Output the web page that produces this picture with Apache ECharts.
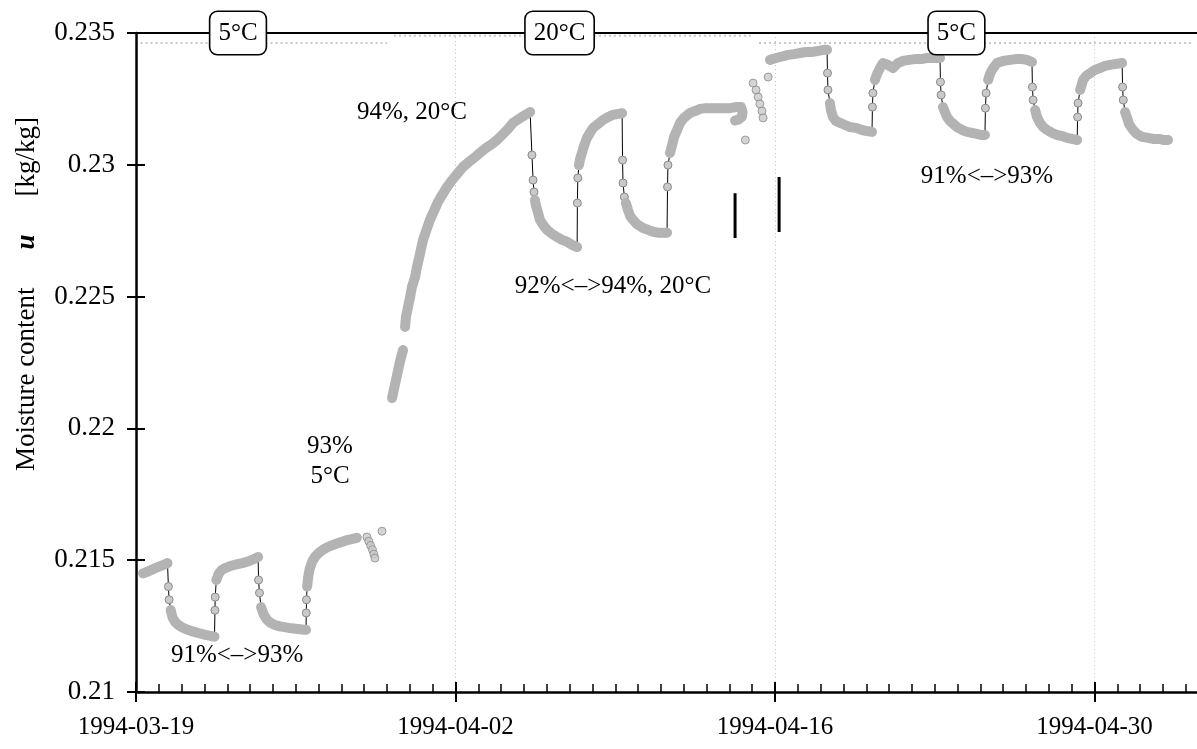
<!DOCTYPE html>
<html>
<head>
<meta charset="utf-8">
<script src="https://cdn.jsdelivr.net/npm/echarts@6/dist/echarts.min.js"></script>
<style>
html,body{margin:0;padding:0;background:#fff;}
#chart{width:1197px;height:749px;}
</style>
</head>
<body>
<div id="chart"></div>
<script>
// x = days since 1994-03-19 00:00, y = moisture content u [kg/kg]
const START_UTC = Date.UTC(1994, 2, 19);

// 5 °C, 91% <-> 93%
const seg1 = [[0.31,0.21450],[0.45,0.21455],[0.6,0.21460],[0.75,0.21466],[0.9,0.21472],[1.05,0.21477],[1.2,0.21482],[1.38,0.21489]];
const drop1 = [[1.42,0.21400],[1.45,0.21350]];
const seg2 = [[1.52,0.21311],[1.6,0.21283],[1.72,0.21265],[1.86,0.21254],[2.0,0.21246],[2.2,0.21238],[2.4,0.21232],[2.6,0.21227],[2.8,0.21222],[3.0,0.21218],[3.2,0.21214],[3.44,0.21210]];
const rise1 = [[3.46,0.21310],[3.47,0.21360]];
const seg3 = [[3.52,0.21425],[3.62,0.21448],[3.75,0.21462],[3.9,0.21470],[4.1,0.21477],[4.3,0.21482],[4.5,0.21486],[4.7,0.21490],[4.9,0.21495],[5.1,0.21502],[5.35,0.21512]];
const drop2 = [[5.37,0.21425],[5.41,0.21376]];
const seg4 = [[5.48,0.21322],[5.6,0.21293],[5.75,0.21273],[5.9,0.21262],[6.1,0.21254],[6.3,0.21249],[6.5,0.21246],[6.7,0.21243],[6.9,0.21241],[7.1,0.21239],[7.3,0.21237],[7.45,0.21236]];
const rise2 = [[7.46,0.21300],[7.47,0.21350]];
const seg5 = [[7.5,0.21400],[7.55,0.21440],[7.62,0.21470],[7.72,0.21495],[7.85,0.21513],[8.0,0.21527],[8.2,0.21540],[8.4,0.21550],[8.6,0.21557],[8.8,0.21563],[9.0,0.21569],[9.2,0.21575],[9.45,0.21580],[9.68,0.21585]];
// 93%, 5 °C scattered readings
const scatter1 = [[10.12,0.21588],[10.2,0.21572],[10.28,0.21556],[10.36,0.21540],[10.42,0.21523],[10.47,0.21508],[10.78,0.21610]];
// 94%, 20 °C
const seg6a = [[11.22,0.22115],[11.27,0.22135],[11.32,0.22155],[11.37,0.22175],[11.42,0.22195],[11.47,0.22215],[11.52,0.22235],[11.57,0.22255],[11.63,0.22275],[11.70,0.22297]];
const seg6b = [[11.79,0.22385],[11.83,0.22423],[11.92,0.22461],[12.01,0.22498],[12.09,0.22536],[12.23,0.22574],[12.31,0.22612],[12.40,0.22646],[12.49,0.22681],[12.58,0.22715],[12.71,0.22749],[12.88,0.22791],[13.06,0.22825],[13.23,0.22859],[13.41,0.22885],[13.63,0.22916],[13.85,0.22942],[14.07,0.22965],[14.33,0.22992],[14.59,0.23011],[14.81,0.23026],[15.07,0.23045],[15.34,0.23064],[15.60,0.23079],[15.82,0.23094],[16.04,0.23113],[16.30,0.23136],[16.52,0.23159],[16.78,0.23174],[17.05,0.23189],[17.27,0.23200]];
// 92% <-> 94%, 20 °C
const drop3 = [[17.35,0.23037],[17.40,0.22942],[17.44,0.22897]];
const seg7 = [[17.48,0.22866],[17.53,0.22844],[17.62,0.22817],[17.70,0.22791],[17.84,0.22772],[18.01,0.22753],[18.23,0.22738],[18.45,0.22726],[18.67,0.22715],[18.89,0.22708],[19.11,0.22696],[19.33,0.22688]];
const rise3 = [[19.34,0.22855],[19.36,0.22950]];
const seg8 = [[19.41,0.22999],[19.46,0.23022],[19.54,0.23045],[19.63,0.23071],[19.76,0.23102],[19.89,0.23121],[20.03,0.23140],[20.25,0.23155],[20.46,0.23170],[20.68,0.23181],[20.90,0.23189],[21.12,0.23193],[21.30,0.23196]];
const drop4 = [[21.32,0.23018],[21.34,0.22931],[21.40,0.22878]];
const seg9 = [[21.47,0.22855],[21.56,0.22828],[21.65,0.22806],[21.78,0.22791],[21.95,0.22775],[22.22,0.22760],[22.44,0.22753],[22.66,0.22746],[22.92,0.22742],[23.14,0.22742],[23.27,0.22742]];
const rise4 = [[23.29,0.22916],[23.31,0.22999]];
const seg10 = [[23.40,0.23045],[23.49,0.23075],[23.58,0.23106],[23.71,0.23132],[23.84,0.23159],[24.01,0.23178],[24.28,0.23197],[24.50,0.23204],[24.72,0.23212],[24.98,0.23215],[25.24,0.23215],[25.50,0.23215],[25.77,0.23215],[26.03,0.23215],[26.29,0.23219],[26.51,0.23219],[26.58,0.23200],[26.55,0.23182],[26.40,0.23172],[26.25,0.23168]];
const scatter2 = [[26.70,0.23094],[27.04,0.23310],[27.17,0.23284],[27.26,0.23257],[27.34,0.23231],[27.43,0.23204],[27.48,0.23178],[27.70,0.23333]];
// 5 °C, 91% <-> 93%
const seg11 = [[27.78,0.23398],[28.05,0.23405],[28.31,0.23411],[28.57,0.23417],[28.83,0.23420],[29.10,0.23424],[29.36,0.23428],[29.62,0.23428],[29.89,0.23432],[30.15,0.23436],[30.28,0.23436]];
const drop5 = [[30.30,0.23348],[30.32,0.23284]];
const seg12 = [[30.41,0.23234],[30.45,0.23208],[30.54,0.23181],[30.67,0.23166],[30.85,0.23159],[31.07,0.23151],[31.29,0.23143],[31.55,0.23140],[31.81,0.23132],[32.03,0.23128],[32.25,0.23125]];
const rise5 = [[32.27,0.23219],[32.29,0.23272]];
const seg13 = [[32.38,0.23322],[32.47,0.23344],[32.60,0.23367],[32.73,0.23386],[32.95,0.23379],[33.17,0.23367],[33.39,0.23386],[33.61,0.23394],[33.87,0.23398],[34.14,0.23401],[34.40,0.23401],[34.66,0.23405],[34.93,0.23405],[35.23,0.23405]];
const drop6 = [[35.25,0.23314],[35.28,0.23265]];
const seg14 = [[35.36,0.23219],[35.45,0.23200],[35.54,0.23181],[35.67,0.23166],[35.76,0.23159],[35.98,0.23143],[36.20,0.23132],[36.42,0.23125],[36.63,0.23121],[36.85,0.23117],[37.03,0.23113],[37.20,0.23113]];
const rise6 = [[37.22,0.23215],[37.25,0.23272]];
const seg15 = [[37.34,0.23322],[37.42,0.23344],[37.51,0.23360],[37.73,0.23386],[37.99,0.23394],[38.30,0.23398],[38.56,0.23401],[38.83,0.23401],[39.04,0.23398],[39.26,0.23390]];
const drop7 = [[39.28,0.23295],[39.31,0.23246]];
const seg16 = [[39.40,0.23208],[39.48,0.23181],[39.61,0.23159],[39.75,0.23143],[39.92,0.23132],[40.14,0.23121],[40.36,0.23113],[40.58,0.23109],[40.80,0.23102],[41.02,0.23098],[41.24,0.23094]];
const rise7 = [[41.26,0.23181],[41.28,0.23234]];
const seg17 = [[41.37,0.23284],[41.45,0.23307],[41.50,0.23322],[41.63,0.23337],[41.81,0.23348],[42.02,0.23360],[42.24,0.23367],[42.46,0.23375],[42.68,0.23379],[42.95,0.23383],[43.21,0.23386]];
const drop8 = [[43.23,0.23295],[43.26,0.23246]];
const seg18 = [[43.34,0.23200],[43.43,0.23178],[43.51,0.23155],[43.69,0.23132],[43.86,0.23117],[44.08,0.23106],[44.35,0.23102],[44.57,0.23098],[44.83,0.23098],[45.05,0.23094],[45.22,0.23094]];

// faint upper trace (temperature record)
const tempTrace = [[0.2,0.23462],[11.0,0.23462],['-','-'],[11.3,0.23490],[27.0,0.23490],['-','-'],[27.3,0.23462],[46.3,0.23462]];
// two vertical marker bars
const bar1 = [[26.25,0.22892],[26.25,0.22722]];
const bar2 = [[28.18,0.22954],[28.18,0.22745]];

// boxed temperature labels on the top line
const boxTexts = ['5°C', '20°C', '5°C'];
const boxDays = [4.47, 18.56, 35.95];
// free annotations
const noteTexts = ['91%<–>93%', '93%\n5°C', '94%, 20°C', '92%<–>94%, 20°C', '91%<–>93%'];
const noteDays = [4.43, 8.5, 12.09, 20.9, 37.29];
const noteVals = [0.2114, 0.21873, 0.23197, 0.22538, 0.22954];

const GAP = ['-', '-'];
const mainOrder = [seg1, drop1, seg2, rise1, seg3, drop2, seg4, rise2, seg5, [GAP], seg6a, [GAP], seg6b, drop3, seg7, rise3, seg8, drop4, seg9, rise4, seg10, [GAP], seg11, drop5, seg12, rise5, seg13, drop6, seg14, rise6, seg15, drop7, seg16, rise7, seg17, drop8, seg18];
const bandSegs = [seg1, seg2, seg3, seg4, seg5, seg6a, seg6b, seg7, seg8, seg9, seg10, seg11, seg12, seg13, seg14, seg15, seg16, seg17, seg18];

const mainData = [].concat(...mainOrder);
const bandData = [];
bandSegs.forEach((s, i) => { if (i) bandData.push(GAP); bandData.push(...s); });

const FONT = 'Liberation Serif';
const markerStyle = { color: '#c9c9c9', borderColor: '#8a8a8a', borderWidth: 1 };

const chart = echarts.init(document.getElementById('chart'), null, { renderer: 'canvas' });

function fmtDay(d) {
  return new Date(START_UTC + d * 86400000).toISOString().slice(0, 10);
}

const xCommon = { type: 'value', min: 0, max: 56, interval: 14, gridIndex: 0 };
const yCommon = { type: 'value', min: 0.21, max: 0.235, interval: 0.005, gridIndex: 0 };
const plainText = { color: '#000', fontFamily: FONT, fontSize: 25, textBorderWidth: 0, textShadowBlur: 0, opacity: 1 };

chart.setOption({
  animation: false,
  backgroundColor: '#fff',
  grid: { left: 136, right: -217, top: 33, bottom: 57, containLabel: false, outerBoundsMode: 'none' },
  xAxis: [
    Object.assign({}, xCommon, {
      position: 'bottom',
      axisLine: { show: true, onZero: false, lineStyle: { color: '#000', width: 2.5 } },
      axisTick: { show: true, inside: false, length: 10, lineStyle: { color: '#000', width: 2 } },
      axisLabel: Object.assign({ show: true, margin: 23, formatter: fmtDay }, plainText),
      splitLine: { show: true, lineStyle: { color: '#c4c4c4', width: 1, type: [1, 3] } },
      minorTick: { show: false }
    }),
    Object.assign({}, xCommon, {
      position: 'bottom',
      axisLine: { show: false, onZero: false },
      axisTick: { show: true, inside: true, length: 10, lineStyle: { color: '#000', width: 2 } },
      minorTick: { show: true, splitNumber: 14, length: 8, lineStyle: { color: '#000', width: 1.5 } },
      axisLabel: { show: false },
      splitLine: { show: false }
    }),
    Object.assign({}, xCommon, {
      position: 'top',
      axisLine: { show: true, onZero: false, lineStyle: { color: '#000', width: 2 } },
      axisTick: { show: false },
      axisLabel: { show: false },
      splitLine: { show: false }
    })
  ],
  yAxis: [
    Object.assign({}, yCommon, {
      position: 'left',
      axisLine: { show: true, onZero: false, lineStyle: { color: '#000', width: 2.5 } },
      axisTick: { show: true, inside: false, length: 9, lineStyle: { color: '#000', width: 2 } },
      axisLabel: Object.assign({ show: true, margin: 21, formatter: v => String(+v.toFixed(3)) }, plainText, { fontSize: 27 }),
      splitLine: { show: false }
    }),
    Object.assign({}, yCommon, {
      position: 'left',
      axisLine: { show: false, onZero: false },
      axisTick: { show: true, inside: true, length: 9, lineStyle: { color: '#000', width: 2 } },
      axisLabel: { show: false },
      splitLine: { show: false }
    })
  ],
  graphic: [{
    type: 'text',
    x: 27, y: 294,
    rotation: Math.PI / 2,
    style: {
      text: '{a|Moisture content}{g|}{b|u}{g|}{a|[kg/kg]}',
      align: 'center', verticalAlign: 'middle',
      fill: '#000',
      font: '27px "Liberation Serif"',
      rich: {
        a: { fontFamily: FONT, fontSize: 27, fill: '#000' },
        g: { width: 38, fontSize: 27 },
        b: { fontFamily: FONT, fontSize: 27, fontWeight: 'bold', fontStyle: 'italic', fill: '#000' }
      }
    }
  }],
  series: [
    {
      name: 'temperature trace', type: 'line', data: tempTrace, xAxisIndex: 0, yAxisIndex: 0,
      showSymbol: false, connectNulls: false, z: 1,
      lineStyle: { color: '#c8c8c8', width: 2, type: [2, 3] }
    },
    {
      name: 'u', type: 'line', data: mainData, xAxisIndex: 0, yAxisIndex: 0,
      connectNulls: false, showAllSymbol: true, symbol: 'circle', symbolSize: 8, z: 2,
      sampling: null,
      lineStyle: { color: '#000', width: 1 },
      itemStyle: markerStyle
    },
    {
      name: 'band', type: 'line', data: bandData, xAxisIndex: 0, yAxisIndex: 0,
      showSymbol: false, connectNulls: false, z: 3,
      lineStyle: { color: '#b3b3b3', width: 10, cap: 'round', join: 'round' }
    },
    {
      name: 'scattered', type: 'scatter', data: scatter1.concat(scatter2), xAxisIndex: 0, yAxisIndex: 0,
      symbol: 'circle', symbolSize: 8, z: 3, itemStyle: markerStyle
    },
    {
      name: 'bar1', type: 'line', data: bar1, showSymbol: false, z: 4,
      lineStyle: { color: '#000', width: 3 }
    },
    {
      name: 'bar2', type: 'line', data: bar2, showSymbol: false, z: 4,
      lineStyle: { color: '#000', width: 3 }
    },
    {
      name: 'notes', type: 'scatter', symbolSize: 0, z: 5, silent: true,
      data: noteTexts.map((t, i) => ({ value: [noteDays[i], noteVals[i]], label: { formatter: t } })),
      label: Object.assign({ show: true, position: 'inside', lineHeight: 30 }, plainText)
    },
    {
      name: 'boxes', type: 'scatter', symbolSize: 0, z: 6, silent: true,
      data: boxTexts.map((t, i) => ({ value: [boxDays[i], 0.235], label: { formatter: t } })),
      label: Object.assign({
        show: true, position: 'inside', lineHeight: 25,
        backgroundColor: '#fff', borderColor: '#000', borderWidth: 1.6, borderRadius: 7, padding: [9, 8, 8, 8]
      }, plainText)
    }
  ]
});
</script>
</body>
</html>
